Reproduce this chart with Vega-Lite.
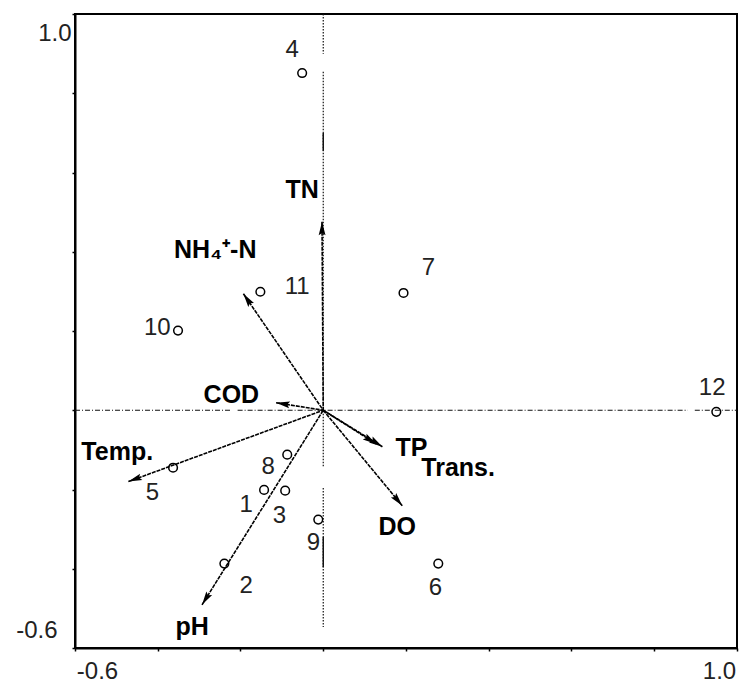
{
  "$schema": "https://vega.github.io/schema/vega-lite/v6.json",
  "width": 662,
  "height": 634,
  "autosize": {"type": "none"},
  "padding": {"left": 75, "top": 14, "right": 2, "bottom": 36},
  "background": "white",
  "config": {
    "view": {"stroke": "black", "strokeWidth": 2},
    "axis": {"domainColor": "black", "domainWidth": 2, "tickColor": "black", "tickWidth": 1.5, "tickSize": 3, "grid": false, "labelFont": "Liberation Sans", "labelFontSize": 24, "labelColor": "#222", "labelOverlap": false, "labelFlush": false, "labelBound": false}
  },
  "datasets": {
    "zeroH": [
      {"x": -0.6, "y": 0, "x2": -0.225, "y2": 0},
      {"x": -0.207, "y": 0, "x2": 0.881, "y2": 0},
      {"x": 0.898, "y": 0, "x2": 1.0, "y2": 0}
    ],
    "zeroV": [
      {"x": 0, "y": 1.0, "x2": 0, "y2": 0.9},
      {"x": 0, "y": 0.854, "x2": 0, "y2": -0.145},
      {"x": 0, "y": -0.196, "x2": 0, "y2": -0.547}
    ],
    "zeroSolid": [
      {"x": 0, "y": 0.70, "x2": 0, "y2": 0.655},
      {"x": 0, "y": -0.32, "x2": 0, "y2": -0.396}
    ],
    "vars": [
      {"var": "TN", "x": -0.003, "y": 0.476},
      {"var": "NH4+-N", "x": -0.193, "y": 0.294},
      {"var": "COD", "x": -0.114, "y": 0.019},
      {"var": "Temp.", "x": -0.471, "y": -0.180},
      {"var": "pH", "x": -0.293, "y": -0.491},
      {"var": "TP", "x": 0.143, "y": -0.092},
      {"var": "Trans.", "x": 0.128, "y": -0.085},
      {"var": "DO", "x": 0.191, "y": -0.241}
    ],
    "varLabels": [
      {"label": "TN", "x": -0.051, "y": 0.556},
      {"label": "NH₄⁺-N", "x": -0.261, "y": 0.405},
      {"label": "COD", "x": -0.222, "y": 0.039},
      {"label": "Temp.", "x": -0.498, "y": -0.105},
      {"label": "pH", "x": -0.317, "y": -0.546},
      {"label": "TP", "x": 0.213, "y": -0.095},
      {"label": "Trans.", "x": 0.326, "y": -0.145},
      {"label": "DO", "x": 0.179, "y": -0.294}
    ],
    "sites": [
      {"site": "1", "x": -0.143, "y": -0.201},
      {"site": "2", "x": -0.239, "y": -0.387},
      {"site": "3", "x": -0.092, "y": -0.203},
      {"site": "4", "x": -0.051, "y": 0.851},
      {"site": "5", "x": -0.363, "y": -0.145},
      {"site": "6", "x": 0.278, "y": -0.387},
      {"site": "7", "x": 0.194, "y": 0.296},
      {"site": "8", "x": -0.087, "y": -0.112},
      {"site": "9", "x": -0.012, "y": -0.276},
      {"site": "10", "x": -0.351, "y": 0.201},
      {"site": "11", "x": -0.152, "y": 0.299},
      {"site": "12", "x": 0.950, "y": -0.004}
    ],
    "siteLabels": [
      {"site": "1", "x": -0.186, "y": -0.238},
      {"site": "2", "x": -0.186, "y": -0.443},
      {"site": "3", "x": -0.106, "y": -0.266},
      {"site": "4", "x": -0.075, "y": 0.909},
      {"site": "5", "x": -0.413, "y": -0.208},
      {"site": "6", "x": 0.271, "y": -0.448},
      {"site": "7", "x": 0.254, "y": 0.359},
      {"site": "8", "x": -0.133, "y": -0.143},
      {"site": "9", "x": -0.024, "y": -0.334},
      {"site": "10", "x": -0.401, "y": 0.208},
      {"site": "11", "x": -0.063, "y": 0.312},
      {"site": "12", "x": 0.940, "y": 0.057}
    ]
  },
  "encoding": {
    "x": {
      "field": "x", "type": "quantitative",
      "scale": {"domain": [-0.6, 1.0], "nice": false, "zero": false},
      "axis": {
        "title": null,
        "values": [-0.6, -0.4, -0.2, 0, 0.2, 0.4, 0.6, 0.8, 1.0],
        "labelExpr": "abs(datum.value + 0.6) < 0.001 ? '-0.6' : (abs(datum.value - 1) < 0.001 ? '1.0' : '')",
        "labelAlign": "center",
        "labelPadding": 8,
        "labelOffset": {"condition": {"test": "datum.value < 0", "value": 22}, "value": -18}
      }
    },
    "y": {
      "field": "y", "type": "quantitative",
      "scale": {"domain": [-0.6, 1.0], "nice": false, "zero": false},
      "axis": {
        "title": null,
        "values": [-0.6, -0.4, -0.2, 0, 0.2, 0.4, 0.6, 0.8, 1.0],
        "labelExpr": "abs(datum.value + 0.6) < 0.001 ? '-0.6' : (abs(datum.value - 1) < 0.001 ? '1.0' : '')",
        "labelAlign": "right",
        "labelBaseline": "middle",
        "labelPadding": {"condition": {"test": "datum.value < 0", "value": 15}, "value": 1},
        "labelOffset": {"condition": {"test": "datum.value < 0", "value": -18}, "value": 19}
      }
    }
  },
  "layer": [
    {
      "data": {"name": "zeroH"},
      "mark": {"type": "rule", "color": "#111", "strokeWidth": 1.2, "strokeDash": [5, 2, 1, 2]},
      "encoding": {"x2": {"field": "x2"}, "y2": {"field": "y2"}}
    },
    {
      "data": {"name": "zeroV"},
      "mark": {"type": "rule", "color": "#111", "strokeWidth": 1.2, "strokeDash": [1.5, 1.5]},
      "encoding": {"x2": {"field": "x2"}, "y2": {"field": "y2"}}
    },
    {
      "data": {"name": "zeroSolid"},
      "mark": {"type": "rule", "color": "#111", "strokeWidth": 1.5},
      "encoding": {"x2": {"field": "x2"}, "y2": {"field": "y2"}}
    },
    {
      "data": {"name": "vars"},
      "mark": {"type": "rule", "color": "black", "strokeWidth": 1.6, "strokeDash": [4, 1]},
      "encoding": {"x2": {"datum": 0}, "y2": {"datum": 0}}
    },
    {
      "data": {"name": "vars"},
      "transform": [{"calculate": "atan2(datum.x * 413.6, datum.y * 396.4) * 180 / PI", "as": "ang"}],
      "mark": {"type": "point", "shape": "M0,0L0.6,2.4L0,2L-0.6,2.4Z", "filled": true, "color": "black", "size": 130, "opacity": 1},
      "encoding": {"angle": {"field": "ang", "type": "quantitative", "scale": null}}
    },
    {
      "data": {"name": "sites"},
      "mark": {"type": "point", "shape": "circle", "filled": false, "stroke": "black", "strokeWidth": 1.5, "size": 75, "opacity": 1},
      "encoding": {}
    },
    {
      "data": {"name": "siteLabels"},
      "mark": {"type": "text", "font": "Liberation Sans", "fontSize": 24, "color": "#222", "align": "center", "baseline": "middle"},
      "encoding": {"text": {"field": "site"}}
    },
    {
      "data": {"name": "varLabels"},
      "mark": {"type": "text", "font": "Liberation Sans", "fontSize": 25, "fontWeight": "bold", "color": "black", "align": "center", "baseline": "middle"},
      "encoding": {"text": {"field": "label"}}
    }
  ]
}
